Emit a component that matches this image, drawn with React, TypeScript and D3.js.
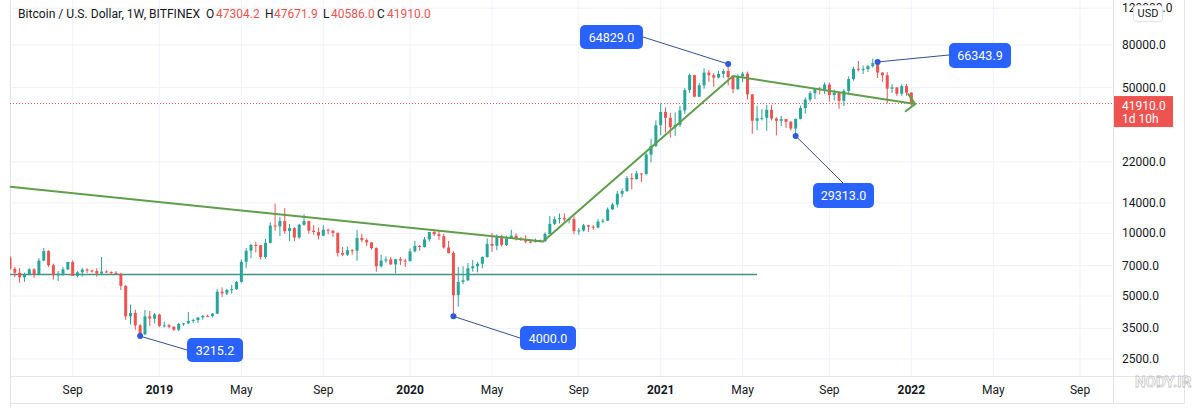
import React from 'react';
import * as d3 from 'd3';

// Weekly BTC/USD (Bitfinex) bars, first bar = week of 2018-06-04
const firstWeek = '2018-06-04';
const opens = [
  7650, 6760, 6470, 6150, 6380, 6720, 6360, 7400, 8220, 7030,
  6300, 6400, 6720, 7290, 6250, 6500, 6710, 6630, 6600, 6420,
  6560, 6520, 6470, 6400, 5600, 4000, 4150, 3620, 3280, 4000,
  3900, 4080, 3600, 3620, 3560, 3450, 3680, 3700, 3800, 3840,
  3950, 4020, 4010, 4120, 5250, 5150, 5350, 5400, 5850, 7300,
  8250, 8800, 8780, 7700, 9000, 10900, 10800, 11450, 10250, 10600,
  9550, 11000, 11450, 10300, 10150, 9750, 10400, 10300, 10050, 8050,
  7900, 8300, 8250, 9500, 9300, 9050, 8500, 6950, 7400, 7500,
  7100, 7520, 7400, 7350, 8200, 8700, 8600, 9350, 10150, 9900,
  9700, 8550, 8050, 5050, 5850, 5950, 6800, 6950, 7150, 7700,
  8900, 8720, 9680, 8800, 9450, 9750, 9450, 9300, 9120, 9080,
  9250, 9170, 9930, 11100, 11700, 11850, 11650, 11700, 10250, 10330,
  10930, 10770, 10670, 11390, 11500, 13030, 13740, 15480, 15960, 18400,
  18180, 19370, 19270, 23850, 26270, 33000, 38200, 35800, 32280, 33100,
  38900, 48600, 57400, 45200, 51200, 59000, 57350, 55800, 58200, 60000,
  56200, 49100, 56600, 58300, 46400, 34650, 35650, 35800, 39100, 35550,
  34650, 35300, 34240, 31800, 35400, 39850, 43800, 47050, 49300, 48900,
  51750, 46050, 47250, 43200, 48200, 54900, 61500, 60900, 61300, 63300,
  65500, 59000, 57300, 49400, 50100, 46700, 50800, 47304.2,
];
const highs = [
  7780, 6900, 6820, 6480, 6800, 6800, 7600, 8500, 8300, 7150,
  6600, 6900, 7300, 7420, 6580, 6800, 6800, 6700, 6800, 7700,
  6650, 6580, 6580, 6450, 5650, 4550, 4300, 3680, 4300, 4250,
  4150, 4120, 3770, 3680, 3600, 3720, 3720, 4200, 3900, 3960,
  4050, 4080, 4150, 5400, 5500, 5420, 5650, 5900, 7500, 8500,
  8900, 9100, 8800, 9400, 11300, 13900, 12000, 13200, 11100, 10700,
  11100, 12350, 11500, 10950, 10650, 10950, 10550, 10350, 10100, 8600,
  8650, 8400, 10400, 9950, 9450, 9100, 8550, 7900, 7750, 7700,
  7550, 7700, 7550, 8450, 9200, 8800, 9600, 10150, 10500, 10250,
  9950, 9200, 8200, 6900, 6950, 7200, 7450, 7300, 7750, 9450,
  10050, 9900, 9850, 9750, 10400, 10000, 9600, 9800, 9300, 9450,
  9350, 10100, 12100, 12050, 12450, 12450, 11800, 12050, 10600, 11100,
  10980, 10950, 11700, 11750, 13300, 14000, 15950, 16400, 18800, 19400,
  19900, 19400, 24250, 28400, 34800, 42000, 40100, 37850, 38000, 40900,
  49700, 58350, 57550, 52600, 61800, 60700, 58600, 60200, 61300, 64829,
  57000, 58000, 59500, 59600, 46600, 40900, 39400, 41300, 41300, 36000,
  36600, 35400, 34600, 35450, 40900, 44800, 48100, 49350, 50500, 52950,
  52900, 48850, 47350, 49250, 56600, 62950, 67000, 63700, 64250, 68900,
  66343.9, 59300, 59200, 51950, 50200, 51800, 52100, 47671.9,
];
const lows = [
  6650, 6150, 5800, 5850, 6300, 6100, 6300, 7350, 6900, 6000,
  5900, 6250, 6650, 6250, 6150, 6200, 6450, 6480, 6200, 6380,
  6480, 6350, 6360, 5350, 3850, 3650, 3450, 3215.2, 3250, 3600,
  3700, 3550, 3540, 3500, 3400, 3400, 3600, 3680, 3720, 3720,
  3850, 3960, 3950, 4100, 4950, 5050, 5150, 5350, 5800, 6800,
  7600, 8100, 7500, 7550, 8950, 10300, 9700, 9950, 9150, 9150,
  9400, 10850, 9950, 9850, 9350, 9700, 9900, 9600, 7750, 7800,
  7780, 7900, 7400, 9050, 8700, 8350, 6550, 6850, 7200, 7050,
  6430, 7050, 6900, 7350, 8100, 8250, 8550, 9150, 9700, 9300,
  8450, 8000, 4000, 4450, 5700, 5900, 6550, 6500, 6800, 7650,
  8150, 8300, 8650, 8700, 9400, 9250, 9200, 8950, 8950, 9050,
  9050, 9100, 9900, 10950, 11150, 11350, 11150, 9900, 9850, 10200,
  10150, 10400, 10550, 11200, 11450, 12950, 13300, 14900, 15800, 16300,
  18150, 17600, 19000, 21900, 25900, 29500, 30400, 28850, 29300, 32300,
  37400, 47100, 44900, 45000, 49300, 53300, 50400, 55400, 55500, 51300,
  47000, 48800, 53100, 43800, 30000, 31200, 34800, 31000, 34800, 29500,
  32700, 32100, 31100, 29313, 35200, 37500, 42850, 43950, 46400, 46500,
  42850, 43350, 39600, 40800, 46900, 54000, 59700, 58100, 59400, 62300,
  55600, 53300, 42000, 47100, 45600, 45600, 45700, 40586,
];
const closes = [
  6760, 6470, 6150, 6380, 6720, 6360, 7400, 8220, 7030, 6300,
  6400, 6720, 7290, 6250, 6500, 6710, 6630, 6600, 6420, 6560,
  6520, 6470, 6400, 5600, 4000, 4150, 3620, 3280, 4000, 3900,
  4080, 3600, 3620, 3560, 3450, 3680, 3700, 3800, 3840, 3950,
  4020, 4010, 4120, 5250, 5150, 5350, 5400, 5850, 7300, 8250,
  8800, 8780, 7700, 9000, 10900, 10800, 11450, 10250, 10600, 9550,
  11000, 11450, 10300, 10150, 9750, 10400, 10300, 10050, 8050, 7900,
  8300, 8250, 9500, 9300, 9050, 8500, 6950, 7400, 7500, 7100,
  7520, 7400, 7350, 8200, 8700, 8600, 9350, 10150, 9900, 9700,
  8550, 8050, 5050, 5850, 5950, 6800, 6950, 7150, 7700, 8900,
  8720, 9680, 8800, 9450, 9750, 9450, 9300, 9120, 9080, 9250,
  9170, 9930, 11100, 11700, 11850, 11650, 11700, 10250, 10330, 10930,
  10770, 10670, 11390, 11500, 13030, 13740, 15480, 15960, 18400, 18180,
  19370, 19270, 23850, 26270, 33000, 38200, 35800, 32280, 33100, 38900,
  48600, 57400, 45200, 51200, 59000, 57350, 55800, 58200, 60000, 56200,
  49100, 56600, 58300, 46400, 34650, 35650, 35800, 39100, 35550, 34650,
  35300, 34240, 31800, 35400, 39850, 43800, 47050, 49300, 48900, 51750,
  46050, 47250, 43200, 48200, 54900, 61500, 60900, 61300, 63300, 65500,
  59000, 57300, 49400, 50100, 46700, 50800, 47300, 41910,
];

// axis ticks
const priceTicks = [120000, 80000, 50000, 22000, 14000, 10000, 7000, 5000, 3500, 2500];
const timeTickLabels = ['Sep', '2019', 'May', 'Sep', '2020', 'May', 'Sep', '2021', 'May', 'Sep', '2022', 'May', 'Sep'];
const timeTickBars = [13, 31, 48, 65, 83, 100, 118, 135, 152, 170, 187, 204, 222];

// drawings
const supportPrice = 6350;
const supportEndBar = 155;
const trendBars = [0, 110.6, 150, 187.8];
const trendPrices = [16740, 9145, 56830, 41730];

// callouts
const calloutBars = [149, 27, 92, 163, 180];
const calloutPrices = [64829.0, 3215.2, 4000.0, 29313.0, 66343.9];
const calloutTexts = ['64829.0', '3215.2', '4000.0', '29313.0', '66343.9'];
// box layout: [left, top, width, height, lineEndX, lineEndY]
const calloutBoxes = [
  [580, 25, 63, 24, 643, 37],
  [187, 338, 56, 24, 187, 350],
  [520, 326, 56, 24, 520, 338],
  [813, 183, 61, 25, 843, 183],
  [949, 43, 62, 25, 949, 55],
];

const header = {
  title: 'Bitcoin / U.S. Dollar, 1W, BITFINEX',
  o: '47304.2', h: '47671.9', l: '40586.0', c: '41910.0',
};
const countdown = '1d 10h';

const W = 1194;
const H = 408;
const PLOT_L = 10;
const PLOT_R = 1113;
const PLOT_B = 376;
const STEP = 4.82;

const UP = '#26a69a';
const DOWN = '#ef5350';
const TEXT = '#131722';
const GRID = '#f0f3fa';
const BORDER = '#e0e3eb';
const FONT = 'Roboto, "Open Sans", sans-serif';

export default function App() {
  const n = closes.length;
  const x = d3.scaleLinear().domain([0, n - 1]).range([PLOT_L, PLOT_L + (n - 1) * STEP]);
  const y = d3.scaleLog().domain([2500, 80000]).range([358.9, 45]);

  const bars = d3.range(n).map((i) => ({ i, o: opens[i], h: highs[i], l: lows[i], c: closes[i] }));
  const bodyW = 3;

  const lastClose = closes[n - 1];
  const yLast = y(lastClose);

  const trendLine = d3.line<number>()
    .x((i) => x(trendBars[i]))
    .y((i) => y(trendPrices[i]));
  const trendPath = trendLine(d3.range(trendBars.length)) || '';

  // arrow head at the end of the trend line
  const tx = x(trendBars[trendBars.length - 1]);
  const ty = y(trendPrices[trendPrices.length - 1]);
  const px = x(trendBars[trendBars.length - 2]);
  const py = y(trendPrices[trendPrices.length - 2]);
  const ang = Math.atan2(ty - py, tx - px);
  const aLen = 12;
  const a1 = [tx + aLen * Math.cos(ang + Math.PI - 0.8), ty + aLen * Math.sin(ang + Math.PI - 0.8)];
  const a2 = [tx + aLen * Math.cos(ang + Math.PI + 0.8), ty + aLen * Math.sin(ang + Math.PI + 0.8)];

  return (
    <svg
      width={W}
      height={H}
      style={{ position: 'absolute', left: 0, top: 0, background: '#fff', fontFamily: FONT }}
    >
      <defs>
        <clipPath id="plot">
          <rect x={PLOT_L} y={0} width={PLOT_R - PLOT_L} height={PLOT_B} />
        </clipPath>
      </defs>
      <rect x={0} y={0} width={W} height={H} fill="#fff" />

      {/* grid */}
      <g clipPath="url(#plot)">
        {priceTicks.map((t) => (
          <line key={'hg' + t} x1={PLOT_L} x2={PLOT_R} y1={y(t)} y2={y(t)} stroke={GRID} strokeWidth={1} />
        ))}
        {timeTickBars.map((b, k) => (
          <line key={'vg' + k} x1={x(b)} x2={x(b)} y1={0} y2={PLOT_B} stroke={GRID} strokeWidth={1} />
        ))}
      </g>

      {/* borders */}
      <line x1={PLOT_L + 0.5} x2={PLOT_L + 0.5} y1={0} y2={H} stroke={BORDER} />
      <line x1={PLOT_R + 0.5} x2={PLOT_R + 0.5} y1={0} y2={H - 5} stroke={BORDER} />
      <line x1={1184.5} x2={1184.5} y1={0} y2={H - 5} stroke={BORDER} />
      <line x1={PLOT_L} x2={1184.5} y1={PLOT_B + 0.5} y2={PLOT_B + 0.5} stroke={BORDER} />
      <line x1={PLOT_L} x2={1184.5} y1={403.5} y2={403.5} stroke={BORDER} />

      <g clipPath="url(#plot)">
        {/* horizontal support line */}
        <line
          x1={x(0)}
          x2={x(supportEndBar)}
          y1={y(supportPrice)}
          y2={y(supportPrice)}
          stroke="#3f9486"
          strokeWidth={1.5}
        />

        {/* last price dotted line */}
        <line x1={PLOT_L} x2={PLOT_R} y1={yLast} y2={yLast} stroke={DOWN} strokeWidth={1} strokeDasharray="1 2" />

        {/* candles */}
        {bars.map((b) => {
          const cx = x(b.i);
          const up = b.c >= b.o;
          const col = up ? UP : DOWN;
          const yt = y(Math.max(b.o, b.c));
          const yb = y(Math.min(b.o, b.c));
          return (
            <g key={b.i}>
              <line x1={cx} x2={cx} y1={y(b.h)} y2={y(b.l)} stroke={col} strokeWidth={1} />
              <rect x={cx - bodyW / 2} y={yt} width={bodyW} height={Math.max(1, yb - yt)} fill={col} />
            </g>
          );
        })}

        {/* trend lines */}
        <path d={trendPath} fill="none" stroke="#5f9e4a" strokeWidth={2} strokeLinejoin="round" />
        <polyline
          points={`${a1[0]},${a1[1]} ${tx},${ty} ${a2[0]},${a2[1]}`}
          fill="none"
          stroke="#5f9e4a"
          strokeWidth={2}
          strokeLinecap="round"
        />
      </g>

      {/* callouts */}
      {calloutBars.map((b, k) => {
        const [bx, by, bw, bh, lx, ly] = calloutBoxes[k];
        const dx = x(b);
        const dy = y(calloutPrices[k]);
        return (
          <g key={'co' + k}>
            <line x1={dx} y1={dy} x2={lx} y2={ly} stroke="#34508f" strokeWidth={1} />
            <circle cx={dx} cy={dy} r={3} fill="#2f5bd9" />
            <rect x={bx} y={by} width={bw} height={bh} rx={5} fill="#2962ff" />
            <text
              x={bx + bw / 2}
              y={by + bh / 2}
              fill="#fff"
              fontSize={12.5}
              textAnchor="middle"
              dominantBaseline="central"
            >
              {calloutTexts[k]}
            </text>
          </g>
        );
      })}

      {/* right price axis */}
      {priceTicks.map((t) => (
        <text key={'pt' + t} x={1122} y={y(t)} fill={TEXT} fontSize={12} dominantBaseline="central">
          {d3.format('.1f')(t)}
        </text>
      ))}
      <rect x={1133.5} y={5.5} width={29} height={16} rx={3} fill="#fff" stroke={BORDER} />
      <text x={1148} y={13.5} fill={TEXT} fontSize={11} textAnchor="middle" dominantBaseline="central">
        USD
      </text>

      {/* last price label */}
      <rect x={PLOT_R + 1} y={yLast - 7.5} width={59} height={31} fill={DOWN} />
      <text x={1122} y={yLast + 2} fill="#fff" fontSize={12} dominantBaseline="central">
        {d3.format('.1f')(lastClose)}
      </text>
      <text x={1122} y={yLast + 15.5} fill="#fff" fontSize={12} dominantBaseline="central">
        {countdown}
      </text>

      {/* time axis */}
      {timeTickBars.map((b, k) => (
        <text
          key={'tt' + k}
          x={x(b)}
          y={390}
          fill={TEXT}
          fontSize={12}
          fontWeight={/^\d+$/.test(timeTickLabels[k]) ? 700 : 400}
          textAnchor="middle"
          dominantBaseline="central"
        >
          {timeTickLabels[k]}
        </text>
      ))}

      {/* header legend */}
      <g fontSize={12} dominantBaseline="central">
        <text x={18} y={14} fill={TEXT} textLength={182} lengthAdjust="spacingAndGlyphs">{header.title}</text>
        <text x={206} y={14} fill={TEXT}>O</text>
        <text x={216} y={14} fill={DOWN}>{header.o}</text>
        <text x={265} y={14} fill={TEXT}>H</text>
        <text x={274} y={14} fill={DOWN}>{header.h}</text>
        <text x={323} y={14} fill={TEXT}>L</text>
        <text x={331} y={14} fill={DOWN}>{header.l}</text>
        <text x={377} y={14} fill={TEXT}>C</text>
        <text x={387} y={14} fill={DOWN}>{header.c}</text>
      </g>

      {/* watermark */}
      <text x={1135} y={387} fontSize={15} fontWeight={700} fill="none" stroke="#c8c8c8" strokeWidth={0.8}>
        NODY.IR
      </text>
      <desc>{firstWeek}</desc>
    </svg>
  );
}
